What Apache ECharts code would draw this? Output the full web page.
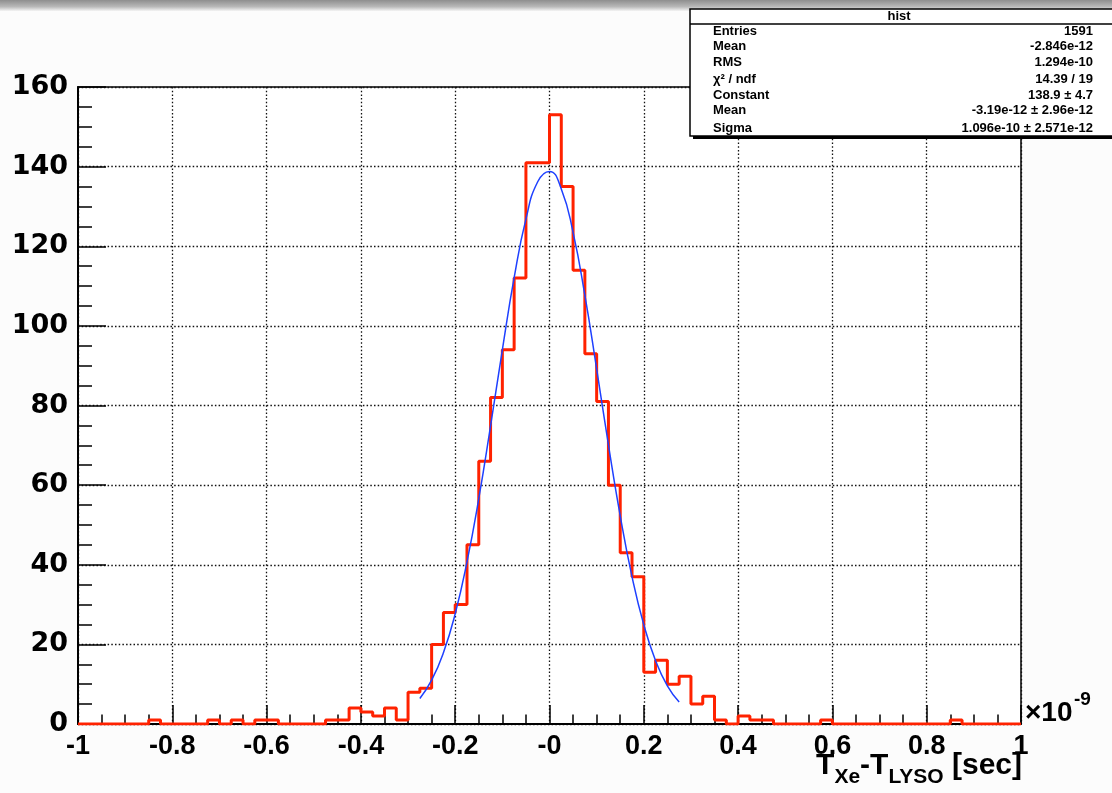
<!DOCTYPE html>
<html><head><meta charset="utf-8">
<script src="https://cdn.jsdelivr.net/npm/echarts/dist/echarts.min.js"></script>
<style>html,body{margin:0;padding:0;background:#fcfcfc}#chart{width:1112px;height:793px}</style>
</head><body><div id="chart"></div>
<script>
// histogram: 80 bins of width 0.025 (x10^-9 s) from -1 to 1
const binLowEdge = -1;
const binWidth = 0.025;
const binCounts = [
  0,0,0,0,0,0,1,0,0,0, 0,1,0,1,0,1,1,0,0,0,
  0,1,1,4,3,2,4,1,8,9, 20,28,30,45,66,82,94,112,141,141,
  153,135,114,93,81,60,43,37,13,16, 10,12,5,7,1,0,2,1,1,0,
  0,0,0,1,0,0,0,0,0,0, 0,0,0,0,1,0,0,0,0,0
];
// gaussian fit curve
const fitX = [-0.275,-0.25,-0.225,-0.2,-0.175,-0.15,-0.125,-0.1,-0.075,-0.05,-0.025,0,
              0.025,0.05,0.075,0.1,0.125,0.15,0.175,0.2,0.225,0.25,0.275];
const fitY = [6.4,11.0,17.9,27.7,40.7,56.6,74.9,94.0,112.1,126.8,136.2,138.8,
              134.4,123.5,107.7,89.2,70.1,52.3,37.0,24.9,15.9,9.6,5.5];
const xTickLabels = ['-1','-0.8','-0.6','-0.4','-0.2','-0','0.2','0.4','0.6','0.8','1'];
const statLabels = ['Entries','Mean','RMS','χ² / ndf','Constant','Mean','Sigma'];
const statValues = ['1591','-2.846e-12','1.294e-10','14.39 / 19','138.9 ± 4.7','-3.19e-12 ± 2.96e-12','1.096e-10 ± 2.571e-12'];

const FONT = '"Liberation Sans", Arial, Helvetica, sans-serif';
const YFONT = '"DejaVu Sans", "Liberation Sans", sans-serif';
const histData = binCounts.map((c, i) => [binLowEdge + i * binWidth, c]);
histData.push([binLowEdge + binCounts.length * binWidth, binCounts[binCounts.length - 1]]);
const fitData = fitX.map((x, i) => [x, fitY[i]]);

const rowY = [31, 46.5, 62, 79, 95, 110.5, 128];
const graphics = [
  { type: 'rect', shape: { x: 0, y: 0, width: 1112, height: 11 }, z: 50,
    style: { fill: new echarts.graphic.LinearGradient(0, 0, 0, 1, [
      { offset: 0, color: '#8e8e8e' }, { offset: 0.6, color: '#b8b8b8' }, { offset: 1, color: '#f4f4f4' }]) } },
  { type: 'rect', shape: { x: 693, y: 12, width: 430, height: 127 }, z: 100, style: { fill: '#000' } },
  { type: 'rect', shape: { x: 690, y: 9, width: 430, height: 127 }, z: 101,
    style: { fill: '#fff', stroke: '#000', lineWidth: 1.5 } },
  { type: 'line', shape: { x1: 690, y1: 24, x2: 1112, y2: 24 }, z: 102, style: { stroke: '#000', lineWidth: 1.5 } },
  { type: 'text', x: 899, y: 16, z: 103,
    style: { text: 'hist', font: 'bold 13px ' + FONT, fill: '#000', textAlign: 'center', textVerticalAlign: 'middle' } }
];
statLabels.forEach((l, i) => {
  graphics.push({ type: 'text', x: 713, y: rowY[i], z: 103,
    style: { text: l, font: 'bold 13px ' + FONT, fill: '#000', textAlign: 'left', textVerticalAlign: 'middle' } });
  graphics.push({ type: 'text', x: 1093, y: rowY[i], z: 103,
    style: { text: statValues[i], font: 'bold 13px ' + FONT, fill: '#000', textAlign: 'right', textVerticalAlign: 'middle' } });
});
// axis title with subscripts
graphics.push({ type: 'text', x: 1022, y: 751, z: 60,
  style: {
    text: '{m|T}{s|Xe}{m|-T}{s|LYSO}{m| [sec]}',
    textAlign: 'right', textVerticalAlign: 'top', fill: '#000',
    rich: {
      m: { fontFamily: FONT, fontWeight: 'bold', fontSize: 30, lineHeight: 30, verticalAlign: 'top', fill: '#000' },
      s: { fontFamily: FONT, fontWeight: 'bold', fontSize: 21, lineHeight: 21, padding: [16, 0, 0, 0], verticalAlign: 'top', fill: '#000' }
    }
  } });
graphics.push({ type: 'text', x: 1025, y: 713, z: 60,
  style: { text: '×10', font: 'bold 28px ' + FONT, fill: '#000', textAlign: 'left', textVerticalAlign: 'middle' } });
graphics.push({ type: 'text', x: 1074, y: 700, z: 60,
  style: { text: '-9', font: 'bold 19px ' + FONT, fill: '#000', textAlign: 'left', textVerticalAlign: 'middle' } });

const chart = echarts.init(document.getElementById('chart'), null, { renderer: 'canvas' });
chart.setOption({
  animation: false,
  backgroundColor: '#fcfcfc',
  grid: { left: 78, right: 91, top: 87, bottom: 69, show: true, backgroundColor: '#fff', borderColor: '#000', borderWidth: 1.5 },
  xAxis: {
    type: 'value', min: -1, max: 1, interval: 0.2,
    axisLine: { show: true, onZero: false, lineStyle: { color: '#000', width: 2 } },
    axisTick: { show: true, inside: true, length: 19, lineStyle: { color: '#000', width: 1.5 } },
    minorTick: { show: true, splitNumber: 4, length: 9.5, lineStyle: { color: '#000', width: 1.5 } },
    splitLine: { show: true, lineStyle: { color: '#111', width: 1.3, type: [1.5, 2.2] } },
    axisLabel: { color: '#000', fontFamily: FONT, fontWeight: 'bold', fontSize: 27, margin: 9,
      formatter: v => xTickLabels[Math.round((v + 1) / 0.2)] }
  },
  yAxis: {
    type: 'value', min: 0, max: 160, interval: 20,
    axisLine: { show: true, onZero: false, lineStyle: { color: '#000', width: 2 } },
    axisTick: { show: true, inside: true, length: 28, lineStyle: { color: '#000', width: 1.5 } },
    minorTick: { show: true, splitNumber: 4, length: 14, lineStyle: { color: '#000', width: 1.5 } },
    splitLine: { show: true, lineStyle: { color: '#111', width: 1.3, type: [1.5, 2.2] } },
    axisLabel: { color: '#000', fontFamily: YFONT, fontWeight: 'bold', fontSize: 27, margin: 10 }
  },
  series: [
    { type: 'line', data: histData, step: 'end', symbol: 'none', z: 3,
      lineStyle: { color: '#ff2200', width: 3 } },
    { type: 'line', data: fitData, smooth: true, symbol: 'none', z: 4,
      lineStyle: { color: '#1e40ff', width: 1.5 } }
  ],
  graphic: graphics
});
</script>
</body></html>
